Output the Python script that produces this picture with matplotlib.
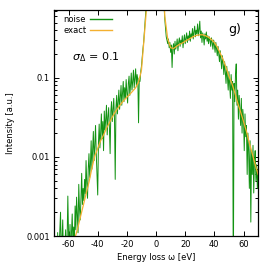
import numpy as np
import matplotlib
matplotlib.use("Agg")
import matplotlib.pyplot as plt
from matplotlib.ticker import LogLocator, NullFormatter, FixedLocator

# exact curve (2 eV grid)
exact_x = list(range(-56, 72, 2))
exact_y = [0.0009, 0.0012, 0.0017, 0.0024, 0.0034, 0.0048, 0.0072, 0.0103,
           0.0128, 0.0160, 0.0190, 0.0230, 0.0270, 0.0320, 0.0370, 0.0420,
           0.0470, 0.0520, 0.0570, 0.0620, 0.0680, 0.0750, 0.0880, 0.1250,
           0.3500, 1.0000, 5.0, 15.0, 20.0, 15.0, 5.0, 0.6000,
           0.3100, 0.2400, 0.2350, 0.2500, 0.2650, 0.2750, 0.2900, 0.3050,
           0.3200, 0.3350, 0.3450, 0.3500, 0.3500, 0.3400, 0.3250, 0.3050,
           0.2800, 0.2450, 0.2050, 0.1700, 0.1350, 0.1050, 0.0850, 0.0650,
           0.0480, 0.0370, 0.0280, 0.0210, 0.0150, 0.0110, 0.0080, 0.0060]

# noisy curve (0.5 eV grid, -70 ... 70); non-positive values are not drawn
noise_x = np.arange(-70.0, 70.25, 0.5)
noise_y = [
    0.0003, -1, 0.0006, 0.0002, -1, 0.0011, 0.0004, 0.0007, 0.0013, 0.0020,
    0.0005, 0.0009, 0.0016, 0.0006, 0.0003, 0.0008, 0.0012, 0.0005, 0.0009, 0.0032,
    0.0010, 0.0007, 0.0014, 0.0005, 0.0011, 0.0019, 0.0008, 0.0013, 0.0009, 0.0024,
    0.0012, 0.0031, 0.0018, 0.0011, 0.0045, 0.0022, 0.0016, 0.0030, 0.0062, 0.0025,
    0.0040, 0.0028, 0.0052, 0.0034, 0.0090, 0.0045, 0.0030, 0.0070, 0.0110, 0.0055,
    0.0080, 0.0160, 0.0070, 0.0120, 0.0210, 0.0090, 0.0140, 0.0250, 0.0110, 0.0060,
    0.0033, 0.0150, 0.0260, 0.0130, 0.0200, 0.0350, 0.0170, 0.0280, 0.0120, 0.0380,
    0.0220, 0.0300, 0.0450, 0.0190, 0.0320, 0.0420, 0.0240, 0.0110, 0.0380, 0.0500,
    0.0280, 0.0400, 0.0550, 0.0300, 0.0052, 0.0420, 0.0600, 0.0350, 0.0500, 0.0700,
    0.0400, 0.0580, 0.0800, 0.0450, 0.0650, 0.0900, 0.0500, 0.0750, 0.0550, 0.0950,
    0.0650, 0.0480, 0.0850, 0.1050, 0.0600, 0.0800, 0.1150, 0.0700, 0.0900, 0.1250,
    0.0750, 0.1000, 0.1300, 0.0800, 0.1100, 0.0950, 0.0270, 0.1000, 0.0900, 0.1200,
    0.14, 0.18, 0.23, 0.28, 0.38, 0.50, 0.70, 0.90, 1.2, 2.0,
    3.0, 4.0, 5.0, 8.0, 10.0, 12.0, 15.0, 18.0, 20.0, 20.0,
    20.0, 20.0, 18.0, 15.0, 12.0, 10.0, 8.0, 6.0, 5.0, 3.0,
    1.5, 0.8, 0.55, 0.42, 0.33, 0.30, 0.27, 0.31, 0.24, 0.28,
    0.21, 0.26, 0.135, 0.24, 0.27, 0.20, 0.29, 0.23, 0.26, 0.31,
    0.22, 0.28, 0.32, 0.25, 0.30, 0.27, 0.34, 0.24, 0.30, 0.35,
    0.27, 0.32, 0.37, 0.28, 0.34, 0.30, 0.39, 0.29, 0.36, 0.33,
    0.42, 0.31, 0.38, 0.45, 0.33, 0.40, 0.36, 0.48, 0.34, 0.41,
    0.52, 0.32, 0.39, 0.28, 0.37, 0.33, 0.26, 0.36, 0.31, 0.38,
    0.29, 0.34, 0.27, 0.33, 0.30, 0.25, 0.32, 0.28, 0.23, 0.30,
    0.26, 0.21, 0.28, 0.23, 0.19, 0.25, 0.20, 0.16, 0.22, 0.17,
    0.13, 0.19, 0.15, 0.11, 0.16, 0.12, 0.085, 0.14, 0.10, 0.07,
    0.12, 0.08, 0.055, 0.11, 0.07, 0.09, 0.0002, 0.085, 0.05, 0.11,
    0.15, 0.045, 0.07, 0.03, 0.06, 0.04, 0.025, 0.055, 0.02, 0.04,
    0.03, 0.012, 0.035, 0.018, 0.025, 0.006, 0.02, 0.012, 0.004, 0.016,
    0.0015, 0.012, 0.006, 0.014, 0.0035, 0.009, 0.012, 0.005, 0.008, 0.004,
    0.007,
]

n = min(len(noise_x), len(noise_y))
noise_plot = np.array(noise_y[:n], dtype=float)
noise_plot = np.where(noise_plot > 0, noise_plot, np.nan)

fig = plt.figure(figsize=(2.74, 2.67), dpi=100)
ax = fig.add_axes([0.197, 0.116, 0.745, 0.8465])

ax.plot(noise_x[:n], noise_plot, color='#139313', lw=0.7, label='noise')
ax.plot(exact_x, exact_y, color='#f4b030', lw=0.9, label='exact')

ax.set_yscale('log')
ax.set_xlim(-70, 70)
ax.set_ylim(0.001, 0.72)

ax.xaxis.set_major_locator(FixedLocator([-60, -40, -20, 0, 20, 40, 60]))
ax.set_xticklabels(['-60', '-40', '-20', '0', '20', '40', '60'])
ax.yaxis.set_major_locator(FixedLocator([0.001, 0.01, 0.1]))
ax.set_yticklabels(['0.001', '0.01', '0.1'])
ax.yaxis.set_minor_locator(LogLocator(base=10, subs=np.arange(2, 10)))
ax.yaxis.set_minor_formatter(NullFormatter())

ax.tick_params(which='both', direction='in', top=True, right=True, labelsize=6, width=0.7, pad=3)
ax.tick_params(which='major', length=3.5)
ax.tick_params(which='minor', length=2)
for s in ax.spines.values():
    s.set_linewidth(0.9)

ax.set_xlabel('Energy loss \u03c9 [eV]', fontsize=6, labelpad=3)
ax.set_ylabel('Intensity [a.u.]', fontsize=6, labelpad=8)

ax.text(0.09, 0.79, r'$\sigma_\Delta$ = 0.1', transform=ax.transAxes, fontsize=8, ha='left', va='center')
ax.text(0.853, 0.915, 'g)', transform=ax.transAxes, fontsize=9, ha='left', va='center')

leg = ax.legend(loc='upper left', markerfirst=False, frameon=False, fontsize=6,
                handlelength=2.6, handletextpad=0.5, labelspacing=0.25,
                borderaxespad=0.2, bbox_to_anchor=(0.02, 1.0))
for line in leg.get_lines():
    line.set_linewidth(1.0)

fig.savefig('out.png', dpi=100)
